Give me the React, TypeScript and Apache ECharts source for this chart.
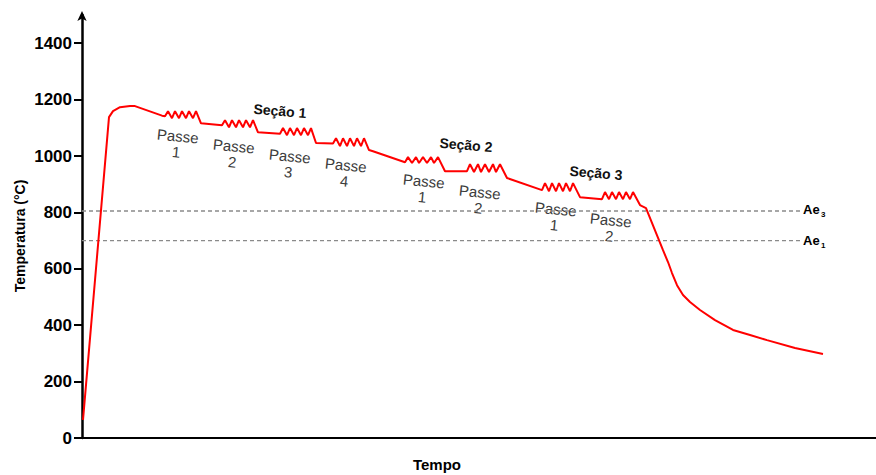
import React, { useEffect, useRef } from "react";
import * as echarts from "echarts";

// y-axis tick labels (°C)
const yTicks = [0, 200, 400, 600, 800, 1000, 1200, 1400];

// critical temperatures (°C)
const ae3 = 805;
const ae1 = 700;
const aeLineEnd = 718; // time where the dashed reference lines stop

// thermal profile, [time, temperature]
const heating = [
  [1, 64], [27, 1138], [31, 1159], [38, 1173], [48, 1177], [53, 1177], [80, 1143],
];
const section1 = [
  [83, 1141], [86, 1159], [90, 1134], [93, 1159], [97, 1134], [100, 1159], [104, 1134], [107, 1159], [111, 1134], [114, 1159], [119, 1116],
  [140, 1109], [143, 1127], [147, 1102], [150, 1127], [154, 1102], [157, 1127], [161, 1102], [164, 1127], [168, 1102], [171, 1127], [176, 1084],
  [198, 1079], [201, 1099], [205, 1074], [208, 1099], [212, 1074], [215, 1099], [219, 1074], [222, 1099], [226, 1074], [229, 1099], [234, 1046],
  [251, 1044], [254, 1063], [258, 1035], [261, 1063], [265, 1035], [268, 1063], [272, 1035], [275, 1063], [279, 1035], [282, 1063], [287, 1021], [291, 1017],
];
const section2 = [
  [323, 978], [326, 996], [330, 975], [334, 996], [337, 975], [341, 996], [345, 975], [349, 996], [352, 975], [356, 996], [363, 946],
  [385, 946], [388, 971], [392, 943], [396, 971], [399, 943], [403, 971], [407, 943], [411, 971], [414, 943], [418, 971], [425, 922],
];
const section3 = [
  [460, 879], [463, 904], [467, 875], [470, 904], [474, 875], [477, 904], [481, 875], [484, 904], [488, 875], [491, 904], [498, 854],
  [520, 847], [523, 872], [527, 847], [530, 872], [534, 847], [537, 872], [541, 847], [544, 872], [548, 847], [551, 872], [558, 826], [564, 815],
];
const cooling = [
  [581, 666], [586, 624], [590, 585], [595, 542], [601, 507], [608, 482], [618, 454], [633, 418],
  [651, 383], [668, 365], [685, 347], [713, 319], [741, 298],
];

const FONT = 'Arial, "Liberation Sans", sans-serif';

const passLabels = [
  { text: "Passe\n1", x: 177, y: 144 },
  { text: "Passe\n2", x: 233, y: 154 },
  { text: "Passe\n3", x: 289, y: 164 },
  { text: "Passe\n4", x: 345, y: 173 },
  { text: "Passe\n1", x: 423, y: 189 },
  { text: "Passe\n2", x: 479, y: 200 },
  { text: "Passe\n1", x: 555, y: 217 },
  { text: "Passe\n2", x: 610, y: 228 },
];
const sectionLabels = [
  { text: "Seção 1", x: 280, y: 111 },
  { text: "Seção 2", x: 466, y: 145 },
  { text: "Seção 3", x: 596, y: 173 },
];

export default function App() {
  const ref = useRef<HTMLDivElement>(null);
  useEffect(() => {
    if (!ref.current) return;
    document.body.style.margin = "0";
    const chart = echarts.init(ref.current, undefined, { renderer: "svg" });
    const profile = [...heating, ...section1, ...section2, ...section3, ...cooling];
    const graphic: any[] = [];
    passLabels.forEach((p) => {
      graphic.push({
        type: "text",
        x: p.x,
        y: p.y,
        rotation: -0.1,
        style: {
          text: p.text,
          fill: "#3c3c3c",
          font: `15px ${FONT}`,
          lineHeight: 16,
          align: "center",
          verticalAlign: "middle",
        },
      });
    });
    sectionLabels.forEach((s) => {
      graphic.push({
        type: "text",
        x: s.x,
        y: s.y,
        rotation: -0.08,
        style: {
          text: s.text,
          fill: "#111",
          font: `bold 14px ${FONT}`,
          align: "center",
          verticalAlign: "middle",
        },
      });
    });
    [
      { main: "Ae", sub: "3", y: 209 },
      { main: "Ae", sub: "1", y: 240 },
    ].forEach((a) => {
      graphic.push({
        type: "text",
        x: 803,
        y: a.y,
        style: { text: a.main, fill: "#000", font: `bold 13px ${FONT}`, align: "left", verticalAlign: "middle" },
      });
      graphic.push({
        type: "text",
        x: 821,
        y: a.y + 5,
        style: { text: a.sub, fill: "#000", font: `bold 8px ${FONT}`, align: "left", verticalAlign: "middle" },
      });
    });
    graphic.push({
      type: "text",
      x: 20,
      y: 236,
      rotation: Math.PI / 2,
      style: {
        text: "Temperatura (°C)",
        fill: "#000",
        font: `bold 14px ${FONT}`,
        align: "center",
        verticalAlign: "middle",
      },
    });
    graphic.push({
      type: "text",
      x: 437,
      y: 464,
      style: { text: "Tempo", fill: "#000", font: `bold 15px ${FONT}`, align: "center", verticalAlign: "middle" },
    });

    chart.setOption({
      animation: false,
      backgroundColor: "#fff",
      grid: { left: 82, right: 0, top: 15, bottom: 37, containLabel: false },
      xAxis: {
        type: "value",
        min: 0,
        max: 794,
        axisLine: { show: true, lineStyle: { color: "#000", width: 2 } },
        axisTick: { show: false },
        axisLabel: { show: false },
        splitLine: { show: false },
      },
      yAxis: {
        type: "value",
        min: 0,
        max: 1500,
        axisLine: {
          show: true,
          symbol: ["none", "arrow"],
          symbolSize: [7, 10],
          symbolOffset: [0, 4],
          lineStyle: { color: "#000", width: 2.5 },
        },
        axisTick: {
          show: true,
          length: 8,
          lineStyle: { color: "#000", width: 2 },
          customValues: yTicks,
        },
        axisLabel: {
          show: true,
          margin: 10,
          color: "#000",
          fontSize: 17,
          fontWeight: "bold",
          fontFamily: FONT,
          customValues: yTicks,
          formatter: (v: number) => String(v),
        },
        splitLine: { show: false },
      },
      series: [
        {
          type: "line",
          data: [[0, ae3], [aeLineEnd, ae3]],
          symbol: "none",
          lineStyle: { color: "#8a8a8a", width: 1.3, type: [4, 3] },
          silent: true,
        },
        {
          type: "line",
          data: [[0, ae1], [aeLineEnd, ae1]],
          symbol: "none",
          lineStyle: { color: "#8a8a8a", width: 1.3, type: [4, 3] },
          silent: true,
        },
        {
          type: "line",
          data: profile,
          symbol: "none",
          smooth: false,
          lineStyle: { color: "#ff0000", width: 2 },
        },
      ],
      graphic,
    });
    return () => chart.dispose();
  }, []);
  return <div ref={ref} style={{ width: 876, height: 475 }} />;
}
